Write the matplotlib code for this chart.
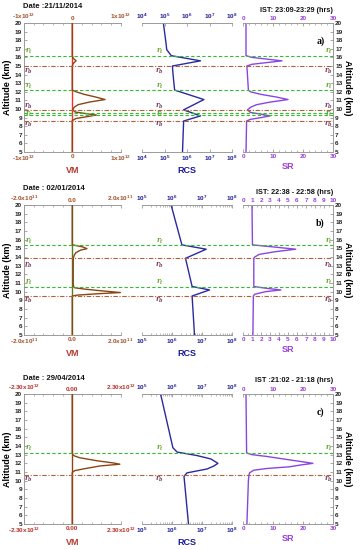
import numpy as np
import matplotlib
matplotlib.use('Agg')
import matplotlib.pyplot as plt
from matplotlib.ticker import FixedLocator, AutoMinorLocator, LogLocator, NullFormatter

plt.rcParams['font.family'] = ['Liberation Sans', 'DejaVu Sans']
plt.rcParams['font.weight'] = 'bold'
plt.rcParams['mathtext.default'] = 'regular'

# ---------------- data ----------------
dates = ['Date :21/11/2014', 'Date : 02/01/2014', 'Date : 29/04/2014']
ist = ['IST: 23:09-23:29 (hrs)', 'IST: 22:38 - 22:58 (hrs)', 'IST :21:02 - 21:18 (hrs)']
letters = ['a)', 'b)', 'c)']

# VM profiles (units of vm_scale)
vm_alt_a = [20, 16.2, 15.9, 15.6, 15.3, 15.0, 12.2, 12.0, 11.7, 11.4, 11.1, 10.8, 10.5, 10.2, 9.9, 9.65, 9.45, 9.3, 9.1, 8.9, 8.65, 5]
vm_val_a = [0, 0, 0.02, 0.08, 0.02, 0, 0, 0.08, 0.25, 0.48, 0.68, 0.35, 0.12, 0.04, 0.01, 0.06, 0.3, 0.5, 0.3, 0.08, 0, 0]
vm_alt_b = [20, 15.4, 15.3, 15.15, 14.96, 14.8, 14.5, 14.2, 13.9, 13.5, 11.0, 10.6, 10.45, 10.3, 10.1, 9.9, 9.75, 9.6, 9.5, 5]
vm_val_b = [0, 0, 0.2, 0.45, 0.61, 0.35, 0.15, 0.08, 0.05, 0.04, 0.04, 0.05, 0.1, 0.5, 1.2, 2.0, 1.0, 0.2, 0, 0]
vm_alt_c = [20, 13.2, 13.0, 12.85, 12.65, 12.3, 12.04, 11.9, 11.7, 11.35, 11.15, 10.95, 5]
vm_val_c = [0, 0, 0.03, 0.11, 0.35, 1.17, 1.97, 2.27, 1.33, 0.52, 0.11, 0, 0]

# RCS profiles (log10)
rcs_alt_a = [20, 18, 16.9, 16.2, 15.6, 15.0, 14.0, 12.2, 11.1, 9.9, 9.2, 8.6, 5]
rcs_log_a = [4.95, 5.05, 5.1, 5.3, 6.6, 5.35, 5.38, 5.45, 6.75, 5.85, 6.6, 5.85, 5.8]
rcs_alt_b = [20, 15.4, 14.9, 13.85, 10.6, 10.2, 9.5, 5]
rcs_log_b = [5.97, 6.33, 7.14, 6.45, 6.67, 7.25, 6.67, 6.75]
rcs_alt_c = [20, 13.8, 13.3, 12.9, 12.5, 12.0, 11.7, 11.35, 10.9, 10.5, 5]
rcs_log_c = [5.62, 6.03, 6.17, 6.83, 7.3, 7.53, 7.4, 7.17, 6.5, 6.4, 6.55]

# SR profiles
sr_alt_a = [20, 16.2, 16.0, 15.8, 15.6, 15.4, 15.2, 15.0, 12.2, 12.0, 11.7, 11.4, 11.1, 10.8, 10.5, 10.2, 9.9, 9.6, 9.4, 9.2, 9.0, 8.8, 8.6, 5]
sr_val_a = [1.0, 1.0, 3.0, 8.0, 13.0, 8.0, 3.0, 1.3, 1.8, 2.5, 6.0, 11.0, 15.0, 9.0, 4.5, 2.5, 1.5, 2.5, 6.0, 9.0, 6.0, 2.5, 1.2, 1.0]
sr_alt_b = [20, 15.4, 15.2, 14.9, 14.6, 14.3, 14.0, 13.85, 10.6, 10.4, 10.2, 10.0, 9.7, 9.5, 5]
sr_val_b = [1.0, 1.05, 3.0, 5.86, 3.5, 1.8, 1.3, 1.2, 1.2, 2.5, 4.2, 2.5, 1.3, 1.15, 1.1]
sr_alt_c = [20, 13.2, 13.0, 12.8, 12.4, 12.0, 11.8, 11.6, 11.4, 11.2, 10.9, 10.7, 10.0, 5]
sr_val_c = [1.0, 1.2, 3.0, 7.8, 15.5, 23.3, 19.0, 15.5, 7.8, 3.5, 2.2, 2.0, 1.8, 1.3]

# layer top (green) and base (brown) altitudes
tops = [[16.2, 12.2, 9.55, 9.3], [15.4, 10.5], [13.15]]
bases = [[15.0, 9.9, 8.55], [13.85, 9.5], [10.7]]
# label altitudes for r_t / r_b
rt_lab = [[16.66, 12.67, 9.35], [15.77, 11.03], [13.73]]
rb_lab = [[14.34, 10.3, 8.2], [13.0, 9.04], [10.1]]

vm_scale = [1e12, 1e11, 1e12]
vm_lim = [1e12, 2e11, 2.3e12]
vm_ticks_lab = [[r'-1x10$^{12}$', '0', r'1x10$^{12}$'],
                [r'-2.0x10$^{11}$', '0.0', r'2.0x10$^{11}$'],
                [r'-2.30x10$^{12}$', '0.00', r'2.30x10$^{12}$']]
rcs_lo = [4, 5, 5]
sr_max = [30, 10, 30]
sr_step = [10, 1, 10]

vm_alts = [vm_alt_a, vm_alt_b, vm_alt_c]
vm_vals = [vm_val_a, vm_val_b, vm_val_c]
rcs_alts = [rcs_alt_a, rcs_alt_b, rcs_alt_c]
rcs_logs = [rcs_log_a, rcs_log_b, rcs_log_c]
sr_alts = [sr_alt_a, sr_alt_b, sr_alt_c]
sr_vals = [sr_val_a, sr_val_b, sr_val_c]

# ---------------- layout ----------------
W, H = 361, 550
fig = plt.figure(figsize=(W / 100, H / 100), dpi=100)

panel_y = [(23, 152), (205, 335), (394, 524)]
col_x = [(24, 120.5), (142, 232), (243, 333)]

vm_col = ['#a0522d', '#a0522d', '#b8322a']
zero_col = ['#ff2a2a', '#5f7a25', '#8b4513']
vm_line = '#8b4513'
rcs_col = '#1c1c9c'
sr_col = '#9a3fd6'
sr_line = '#8a45e0'
green = '#33bb33'
brown = '#b0603a'
spine_c = '#9a9a9a'
fs_tick = 4.6


def px_ax(x0, x1, y0, y1):
    return fig.add_axes([x0 / W, 1 - y1 / H, (x1 - x0) / W, (y1 - y0) / H])


def style(ax, col):
    for s in ['left', 'right']:
        ax.spines[s].set_visible(False)
    for s in ['top', 'bottom']:
        ax.spines[s].set_color(spine_c)
        ax.spines[s].set_linewidth(0.7)
    ax.tick_params(axis='x', which='both', top=True, labeltop=True, bottom=True,
                   labelbottom=True, colors=spine_c, labelcolor=col, labelsize=fs_tick,
                   direction='in', pad=1.5)
    ax.tick_params(axis='x', which='major', length=2.5, width=0.6)
    ax.tick_params(axis='x', which='minor', length=1.3, width=0.5)
    ax.set_ylim(5, 20)
    ax.set_yticks(range(5, 21))


for p in range(3):
    y0, y1 = panel_y[p]
    # ---- VM
    ax1 = px_ax(col_x[0][0], col_x[0][1], y0, y1)
    style(ax1, vm_col[p])
    ax1.spines['left'].set_visible(True)
    ax1.spines['left'].set_color(spine_c)
    ax1.spines['left'].set_linewidth(0.7)
    ax1.tick_params(axis='y', left=True, right=False, labelleft=True, labelsize=fs_tick,
                    colors=spine_c, labelcolor='#222222', length=2, width=0.6,
                    direction='in', pad=1.5)
    lim = vm_lim[p]
    ax1.set_xlim(-lim, lim)
    ax1.set_xticks([-lim, 0, lim])
    ax1.set_xticklabels(vm_ticks_lab[p])
    ax1.xaxis.set_minor_locator(AutoMinorLocator(5))
    ax1.axvline(0, color=zero_col[p], lw=1.0, zorder=2)
    ax1.plot(np.array(vm_vals[p]) * vm_scale[p], vm_alts[p], color=vm_line, lw=1.0, zorder=3)
    ax1.set_xlabel('VM', color='#b03a2e', fontsize=6.5, fontweight='bold', labelpad=2)
    ax1.set_ylabel('Altitude (km)', fontsize=6.5, fontweight='bold', labelpad=2)
    ax1.patch.set_alpha(0)

    # ---- RCS
    ax2 = px_ax(col_x[1][0], col_x[1][1], y0, y1)
    ax2.set_xscale('log')
    style(ax2, rcs_col)
    ax2.tick_params(axis='y', left=False, right=False, labelleft=False)
    ax2.set_xlim(10.0 ** rcs_lo[p], 1e8)
    ax2.xaxis.set_major_locator(FixedLocator([10.0 ** k for k in range(rcs_lo[p], 9)]))
    ax2.xaxis.set_minor_locator(LogLocator(base=10, subs=np.arange(2, 10)))
    ax2.xaxis.set_minor_formatter(NullFormatter())
    ax2.plot(10.0 ** np.array(rcs_logs[p]), rcs_alts[p], color='#2a2aa0', lw=1.0)
    ax2.set_xlabel('RCS', color=rcs_col, fontsize=6.5, fontweight='bold', labelpad=2)
    ax2.patch.set_alpha(0)

    # ---- SR
    ax3 = px_ax(col_x[2][0], col_x[2][1], y0, y1)
    style(ax3, sr_col)
    ax3.spines['right'].set_visible(True)
    ax3.spines['right'].set_color(spine_c)
    ax3.spines['right'].set_linewidth(0.7)
    ax3.tick_params(axis='y', left=False, right=True, labelleft=False, labelright=True,
                    labelsize=fs_tick, colors=spine_c, labelcolor='#222222', length=2,
                    width=0.6, direction='in', pad=1.5)
    ax3.set_xlim(0, sr_max[p])
    ax3.set_xticks(np.arange(0, sr_max[p] + 0.1, sr_step[p]))
    ax3.xaxis.set_minor_locator(AutoMinorLocator(5 if sr_step[p] == 10 else 2))
    ax3.plot(sr_vals[p], sr_alts[p], color=sr_line, lw=1.0)
    ax3.set_xlabel('SR', color=sr_col, fontsize=6.5, fontweight='bold', labelpad=2)
    ax3.yaxis.set_label_position('right')
    ax3.set_ylabel('Altitude (km)', fontsize=6.5, fontweight='bold', rotation=-90, labelpad=7)
    ax3.patch.set_alpha(0)
    ax3.text(0.86, 0.86, letters[p], transform=ax3.transAxes, fontsize=7,
             fontweight='bold', family='Liberation Serif', ha='center', va='center')

    # ---- overlay for layer lines spanning all columns
    ov = px_ax(col_x[0][0], col_x[2][1], y0, y1)
    ov.set_xlim(0, 1)
    ov.set_ylim(5, 20)
    ov.axis('off')
    ov.patch.set_alpha(0)
    for a in tops[p]:
        ov.axhline(a, color=green, lw=0.8, ls=(0, (3, 2)), zorder=5)
    for a in bases[p]:
        ov.axhline(a, color=brown, lw=0.8, ls=(0, (4, 1.5, 1, 1.5)), zorder=5)
    span = col_x[2][1] - col_x[0][0]
    for xp in [28.5, 159.5, 328.5]:
        xf = (xp - col_x[0][0]) / span
        for a in rt_lab[p]:
            ov.text(xf, a, r'$r_t$', color='#6aa832', fontsize=5, ha='center', va='center',
                    family='DejaVu Serif', style='italic')
        for a in rb_lab[p]:
            ov.text(xf, a, r'$r_b$', color='#7d3f66', fontsize=5, ha='center', va='center',
                    family='DejaVu Serif', style='italic')

    # headers
    fig.text(23 / W, 1 - (y0 - 16) / H, dates[p], fontsize=5.5, fontweight='bold',
             ha='left', va='center', color='#111111')
    fig.text(333 / W, 1 - (y0 - 13) / H, ist[p], fontsize=5.2, fontweight='bold',
             ha='right', va='center', color='#111111')

fig.savefig('out.png', dpi=100)
